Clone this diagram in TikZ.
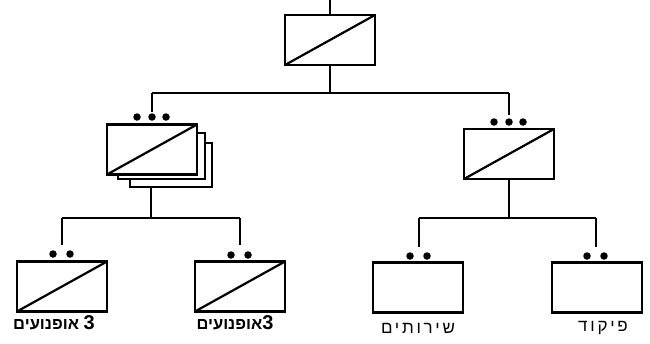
\documentclass[tikz,border=0pt]{standalone}
\usepackage{fontspec}
\newfontfamily\hebfont[Script=Hebrew]{Liberation Sans}
\newfontfamily\hebwide[Script=Hebrew,LetterSpace=16]{Liberation Sans}
\TeXXeTstate=1
\tikzset{
  unit/.style={draw, line width=2.2pt, fill=white, minimum width=90pt, minimum height=50pt, inner sep=0pt, outer sep=0pt},
  diag/.style={line width=2.2pt},
  wire/.style={line width=1.7pt},
  dot/.style={circle, fill=black, inner sep=0pt, minimum size=7.5pt},
  lab/.style={font=\hebfont\bfseries\fontsize{16.5}{16.5}\selectfont, inner sep=0pt},
  lab2/.style={font=\hebwide\fontsize{17}{17}\selectfont, inner sep=0pt},
}
\begin{document}
\begin{tikzpicture}[x=1pt,y=-1pt]
\useasboundingbox (0,0) rectangle (650,343);
% top unit
\node[unit] (top) at (330,40) {};
\draw[diag] (top.south west) -- (top.north east);
\coordinate (topin) at (330,0);
\draw[wire] (topin) -- (top.north);
\coordinate (j0) at (330,93);
\coordinate (jl) at (152,93);
\coordinate (jr) at (509,93);
\draw[wire] (top.south) -- (j0);
\draw[wire] (jl) -- (jr);
\coordinate (ml) at (152,112);
\coordinate (mr) at (509,115);
\draw[wire] (jl) -- (ml);
\draw[wire] (jr) -- (mr);
% left middle stack
\draw[line width=2.2pt, fill=white] (130,143) rectangle (212,187);
\draw[line width=2.2pt, fill=white] (118,133) rectangle (205,179);
\node[unit] (L) at (152,149.5) {};
\draw[diag] (L.south west) -- (L.north east);
\node[dot] (Ld1) at (137,117) {};
\node[dot] (Ld2) at (152,117) {};
\node[dot] (Ld3) at (166,117) {};
% right middle unit
\node[unit] (R) at (509,154) {};
\draw[diag] (R.south west) -- (R.north east);
\node[dot] (Rd1) at (494,122) {};
\node[dot] (Rd2) at (509,122) {};
\node[dot] (Rd3) at (523,122) {};
% lower junctions
\coordinate (ls) at (151,187);
\coordinate (lj) at (151,218);
\draw[wire] (ls) -- (lj);
\coordinate (lja) at (62,218);
\coordinate (ljb) at (240,218);
\draw[wire] (lja) -- (ljb);
\coordinate (rj) at (509,218);
\draw[wire] (R.south) -- (rj);
\coordinate (rja) at (419,218);
\coordinate (rjb) at (596,218);
\draw[wire] (rja) -- (rjb);
% bottom units
\node[unit] (B1) at (62,286.5) {};
\draw[diag] (B1.south west) -- (B1.north east);
\node[unit] (B2) at (240,286.5) {};
\draw[diag] (B2.south west) -- (B2.north east);
\node[unit] (B3) at (418,287.5) {};
\node[unit] (B4) at (597,287.5) {};
% bottom wires
\coordinate (b1t) at (62,245);
\coordinate (b2t) at (240,245);
\coordinate (b3t) at (419,247);
\coordinate (b4t) at (596,247);
\draw[wire] (lja) -- (b1t);
\draw[wire] (ljb) -- (b2t);
\draw[wire] (rja) -- (b3t);
\draw[wire] (rjb) -- (b4t);
% dots
\node[dot] (B1a) at (53,254) {};
\node[dot] (B1b) at (70,254) {};
\node[dot] (B2a) at (231,255) {};
\node[dot] (B2b) at (248,255) {};
\node[dot] (B3a) at (410,256) {};
\node[dot] (B3b) at (427,256) {};
\node[dot] (B4a) at (587,256) {};
\node[dot] (B4b) at (604,256) {};
% labels
\node[lab] (t1) at (54,323) {\beginR {\fontsize{20}{20}\selectfont 3} אופנועים\endR};
\node[lab] (t2) at (235,323) {\beginR {\fontsize{20}{20}\selectfont 3}אופנועים\endR};
\node[lab2] (t3) at (418,328) {\beginR שירותים\endR};
\node[lab2] (t4) at (603,328) {\beginR פיקוד\endR};
\end{tikzpicture}
\end{document}
